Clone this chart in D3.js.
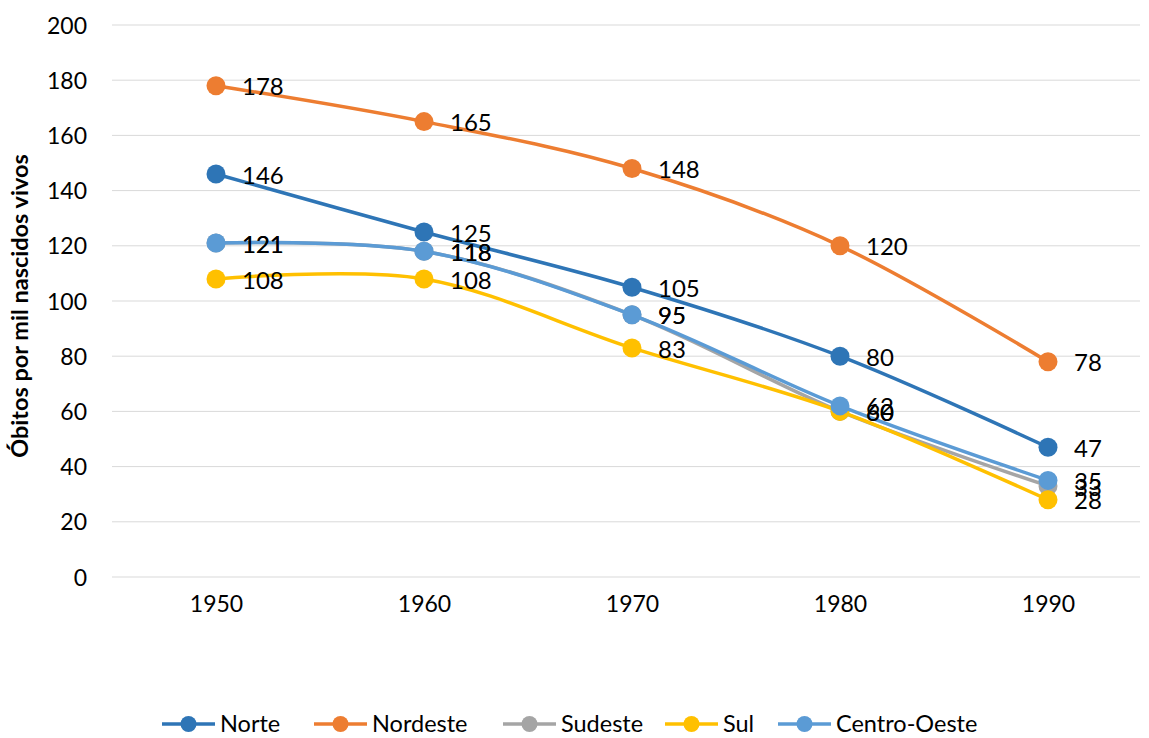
<!DOCTYPE html>
<html>
<head>
<meta charset="utf-8">
<script src="https://cdn.jsdelivr.net/npm/d3@7"></script>
<style>
  body { margin: 0; background: #fff; }
  svg text { font-family: Lato, "Open Sans", sans-serif; fill: #000; }
</style>
</head>
<body>
<div id="chart"></div>
<script>
// data
var years = ["1950", "1960", "1970", "1980", "1990"];
var regions = ["Norte", "Nordeste", "Sudeste", "Sul", "Centro-Oeste"];
var norte = [146, 125, 105, 80, 47];
var nordeste = [178, 165, 148, 120, 78];
var sudeste = [121, 118, 95, 60, 33];
var sul = [108, 108, 83, 60, 28];
var centroOeste = [121, 118, 95, 62, 35];
var yTicks = [0, 20, 40, 60, 80, 100, 120, 140, 160, 180, 200];

var colors = ["#2E75B6", "#ED7D31", "#A5A5A5", "#FFC000", "#5B9BD5"];
var seriesValues = [norte, nordeste, sudeste, sul, centroOeste];

var W = 1149, H = 738;
var plot = { left: 112, right: 1152, top: 25, bottom: 577 };

var svg = d3.select("#chart")
    .append("svg")
    .attr("width", W)
    .attr("height", H);

var x = d3.scalePoint()
    .domain(years)
    .range([plot.left, plot.right])
    .padding(0.5);

var y = d3.scaleLinear()
    .domain([0, 200])
    .range([plot.bottom, plot.top]);

// gridlines
svg.append("g")
    .selectAll("line")
    .data(yTicks)
    .enter()
    .append("line")
    .attr("x1", plot.left)
    .attr("x2", 1140)
    .attr("y1", function (d) { return y(d) })
    .attr("y2", function (d) { return y(d) })
    .style("stroke", "#d9d9d9")
    .style("stroke-width", 1);

// y axis labels
var yAxis = d3.axisLeft(y).tickValues(yTicks).tickSize(0).tickPadding(0);
var gy = svg.append("g")
    .attr("transform", "translate(87,0)")
    .call(yAxis);
gy.select(".domain").remove();
gy.selectAll("text")
    .style("font-size", "23px")
    .attr("dy", "0.35em");

// x axis labels
var xAxis = d3.axisBottom(x).tickSize(0).tickPadding(0);
var gx = svg.append("g")
    .attr("transform", "translate(0,598)")
    .call(xAxis);
gx.select(".domain").remove();
gx.selectAll("text")
    .style("font-size", "23px")
    .attr("dy", "0.62em");

// y axis title
svg.append("text")
    .attr("transform", "translate(28," + ((plot.top + plot.bottom) / 2 + 5) + ") rotate(-90)")
    .attr("text-anchor", "middle")
    .style("font-size", "23.5px")
    .style("font-weight", "bold")
    .text("Óbitos por mil nascidos vivos");

var line = d3.line()
    .x(function (d, i) { return x(years[i]) })
    .y(function (d) { return y(d) })
    .curve(d3.curveCatmullRom.alpha(0));

var series = regions.map(function (r, i) {
    return { name: r, values: seriesValues[i], color: colors[i] };
});

series.forEach(function (s) {
    var g = svg.append("g");
    g.append("path")
        .datum(s.values)
        .attr("d", line)
        .style("fill", "none")
        .style("stroke", s.color)
        .style("stroke-width", 3.5)
        .style("stroke-linecap", "round");
    g.selectAll("circle")
        .data(s.values)
        .enter()
        .append("circle")
        .attr("cx", function (d, i) { return x(years[i]) })
        .attr("cy", function (d) { return y(d) })
        .attr("r", 9.5)
        .style("fill", s.color);
});

series.forEach(function (s) {
    svg.append("g")
        .selectAll("text")
        .data(s.values)
        .enter()
        .append("text")
        .attr("x", function (d, i) { return x(years[i]) + 26 })
        .attr("y", function (d) { return y(d) })
        .attr("dy", "0.4em")
        .style("font-size", "24px")
        .text(function (d) { return d });
});

// legend
var legendX = [162, 314, 503, 665, 778];
var legend = svg.append("g");
series.forEach(function (s, i) {
    var lg = legend.append("g").attr("transform", "translate(" + legendX[i] + ",724)");
    lg.append("line")
        .attr("x1", 0).attr("x2", 53)
        .attr("y1", 0).attr("y2", 0)
        .style("stroke", s.color)
        .style("stroke-width", 3.5);
    lg.append("circle")
        .attr("cx", 26.5).attr("cy", 0).attr("r", 8)
        .style("fill", s.color);
    lg.append("text")
        .attr("x", 58).attr("y", 0).attr("dy", "0.36em")
        .style("font-size", "23.5px")
        .text(s.name);
});
</script>
</body>
</html>
